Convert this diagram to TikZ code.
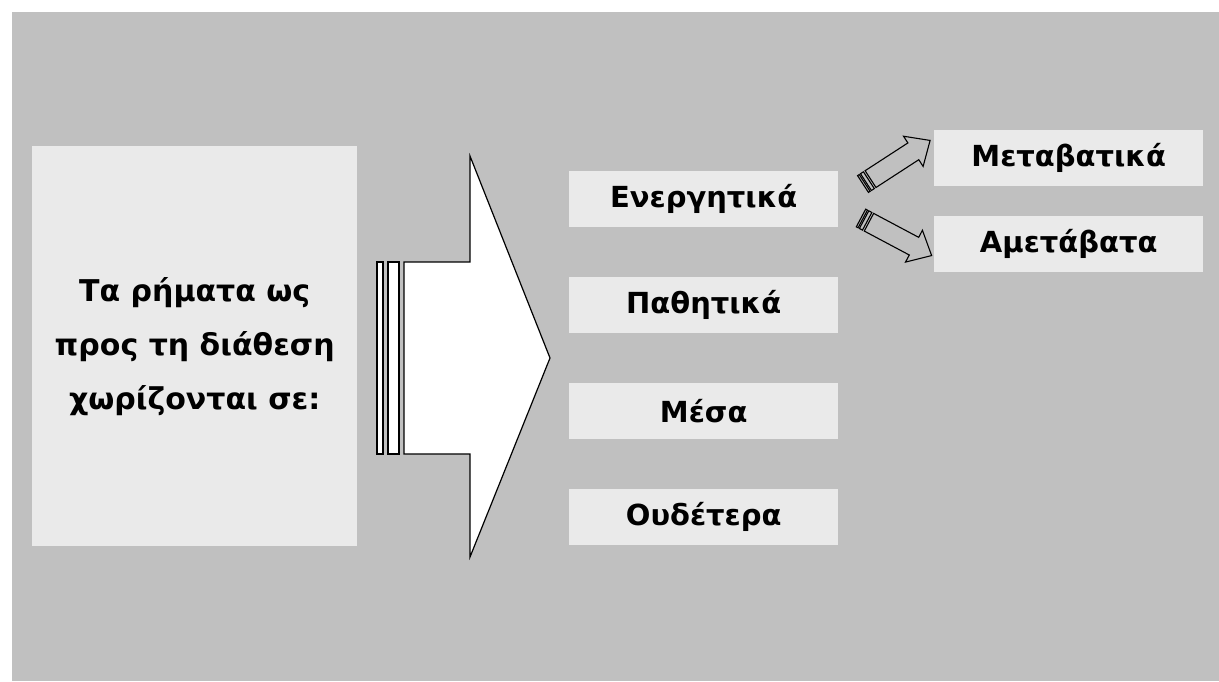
\documentclass[tikz,border=0pt]{standalone}
\usepackage{fontspec}
\setmainfont{DejaVu Sans}
\definecolor{bggray}{RGB}{192,192,192}
\definecolor{boxgray}{RGB}{234,234,234}
\begin{document}
\begin{tikzpicture}[x=1pt,y=-1pt,
  lbl/.style={fill=boxgray, font=\bfseries\fontsize{29}{54}\selectfont, minimum width=269pt, minimum height=56pt, inner sep=0pt, anchor=north west, align=center},
  blk/.style={fill=white, draw=black, line width=1.2pt, line join=miter}]
\useasboundingbox (0,0) rectangle (1219,681);
\fill[bggray] (12,12) rectangle (1219,681);
% left box
\node[lbl, font=\bfseries\fontsize{30}{54}\selectfont, minimum width=325pt, minimum height=400pt] (main) at (32,146) {Τα ρήματα ως\\προς τη διάθεση\\χωρίζονται σε:};
% big arrow
\draw[blk] (404,262) -- (470,262) -- (470,156) -- (550,358) -- (470,557) -- (470,454) -- (404,454) -- cycle;
\draw[blk] (377,262) rectangle (383,454);
\draw[blk] (388,262) rectangle (399,454);
% category boxes
\node[lbl] (en) at (569,171) {Ενεργητικά};
\node[lbl] (pa) at (569,277) {Παθητικά};
\node[lbl] (me) at (569,383) {Μέσα};
\node[lbl] (ou) at (569,489) {Ουδέτερα};
\node[lbl] (mt) at (934,130) {Μεταβατικά};
\node[lbl] (am) at (934,216) {Αμετάβατα};
% small striped arrows
\coordinate (t1) at (863,184);
\coordinate (t2) at (861,218);
\foreach \c/\a in {t1/33, t2/-28}{
\begin{scope}[shift={(\c)}, rotate=\a, blk, line width=1.1pt]
  \draw (9,-10) -- (60,-10) -- (60,-18) -- (80,0) -- (60,18) -- (60,10) -- (9,10) -- cycle;
  \draw (0,-10) rectangle (2,10);
  \draw (3.5,-10) rectangle (7,10);
\end{scope}
}
\end{tikzpicture}
\end{document}
